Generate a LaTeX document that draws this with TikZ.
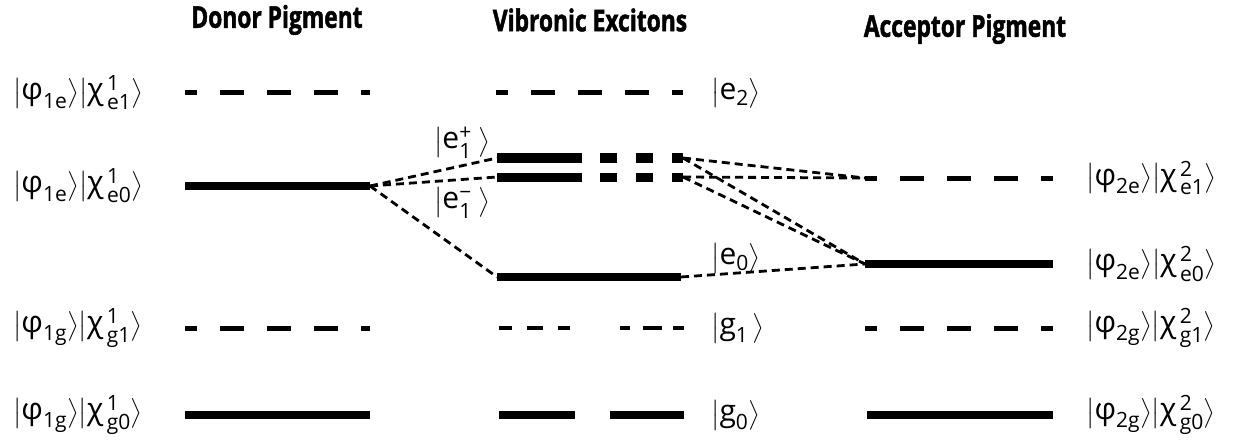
\documentclass[tikz,border=0pt]{standalone}
\usepackage{amsmath}
\usepackage{fontspec}
\setmainfont{Open Sans}
\newfontfamily\titlefont[FakeStretch=0.76,FakeBold=1.5]{Open Sans}
\newcommand\tx[1]{\text{#1}}
\newcommand\myket[1]{\ensuremath{\bigl|#1\bigr\rangle}}
\newcommand\pair[3]{\myket{\tx{φ}_{\tx{#1}}}\myket{\tx{χ}^{\,\tx{#2}}_{\,\tx{#3}}}}
\begin{document}
\begin{tikzpicture}[x=1pt,y=-1pt,
  lab/.style={anchor=west,inner sep=0pt,font=\fontsize{30}{33}\selectfont},
  ttl/.style={inner sep=0pt,font=\titlefont\bfseries\fontsize{30}{34}\selectfont},
  solidlvl/.style={line width=8pt},
  dashlvl/.style={line width=5pt,dash pattern=on 24pt off 23pt,dash phase=12pt},
  splitlvl/.style={line width=9pt,dash pattern=on 85pt off 18pt on 17pt off 19pt on 17pt off 19pt on 20pt off 20pt},
  gonelvl/.style={line width=4pt,dash pattern=on 13pt off 15pt on 16pt off 15pt on 12pt off 50pt on 10pt off 13pt on 19pt off 11pt on 11pt off 20pt},
  gzerolvl/.style={line width=8pt,dash pattern=on 76pt off 35pt on 80pt off 20pt},
  conn/.style={line width=2.8pt,dash pattern=on 8pt off 5pt}]
\useasboundingbox (0,0) rectangle (1250,441);
% titles
\node[ttl] (tD) at (277,20) {Donor Pigment};
\node[ttl] (tV) at (590,20) {Vibronic Excitons};
\node[ttl] (tA) at (965,29) {Acceptor Pigment};
% donor levels
\coordinate (De1a) at (185,93);  \coordinate (De1b) at (370,93);
\coordinate (De0a) at (185,186); \coordinate (De0b) at (370,186);
\coordinate (Dg1a) at (185,328); \coordinate (Dg1b) at (370,328);
\coordinate (Dg0a) at (185,415); \coordinate (Dg0b) at (370,415);
\draw[dashlvl] (De1a) -- (De1b);
\draw[solidlvl] (De0a) -- (De0b);
\draw[dashlvl] (Dg1a) -- (Dg1b);
\draw[solidlvl] (Dg0a) -- (Dg0b);
% exciton levels
\coordinate (Ve2a) at (496,93);  \coordinate (Ve2b) at (683,93);
\coordinate (Vpa) at (497,158);  \coordinate (Vpb) at (683,158);
\coordinate (Vma) at (497,177);  \coordinate (Vmb) at (683,177);
\coordinate (Ve0a) at (497,277); \coordinate (Ve0b) at (681,277);
\coordinate (Vg1a) at (499,328); \coordinate (Vg1b) at (684,328);
\coordinate (Vg0a) at (499,415); \coordinate (Vg0b) at (684,415);
\draw[dashlvl] (Ve2a) -- (Ve2b);
\draw[splitlvl] (Vpa) -- (Vpb);
\draw[splitlvl] (Vma) -- (Vmb);
\draw[solidlvl] (Ve0a) -- (Ve0b);
\draw[gonelvl] (Vg1a) -- (Vg1b);
\draw[gzerolvl] (Vg0a) -- (Vg0b);
% acceptor levels
\coordinate (Ae1a) at (865,178); \coordinate (Ae1b) at (1053,178);
\coordinate (Ae0a) at (865,264); \coordinate (Ae0b) at (1053,264);
\coordinate (Ag1a) at (865,328); \coordinate (Ag1b) at (1053,328);
\coordinate (Ag0a) at (867,415); \coordinate (Ag0b) at (1053,415);
\draw[dashlvl] (Ae1a) -- (Ae1b);
\draw[solidlvl] (Ae0a) -- (Ae0b);
\draw[dashlvl] (Ag1a) -- (Ag1b);
\draw[solidlvl] (Ag0a) -- (Ag0b);
% connectors
\draw[conn] (De0b) -- (Vpa);
\draw[conn] (De0b) -- (Vma);
\draw[conn] (De0b) -- (Ve0a);
\draw[conn] (Vpb) -- (Ae1a);
\draw[conn] (Vmb) -- (Ae1a);
\draw[conn] (Vpb) -- (Ae0a);
\draw[conn] (Vmb) -- (Ae0a);
\draw[conn] (Ve0b) -- (Ae0a);
% left labels
\node[lab] (LDe1) at (13,93)  {\pair{1e}{1}{e1}};
\node[lab] (LDe0) at (13,186) {\pair{1e}{1}{e0}};
\node[lab] (LDg1) at (13,328) {\pair{1g}{1}{g1}};
\node[lab] (LDg0) at (13,415) {\pair{1g}{1}{g0}};
% exciton labels
\node[lab] (LVe2) at (711,93)  {\myket{\tx{e}_{\tx{2}}}};
\node[lab] (LVp)  at (434,143) {\myket{\tx{e}^{\tx{+}}_{\tx{1}}\;}};
\node[lab] (LVm)  at (434,203) {\myket{\tx{e}^{\tx{−}}_{\tx{1}}\;}};
\node[lab] (LVe0) at (711,258) {\myket{\tx{e}_{\tx{0}}}};
\node[lab] (LVg1) at (711,328) {\myket{\tx{g}_{\tx{1}}\,}};
\node[lab] (LVg0) at (711,415) {\myket{\tx{g}_{\tx{0}}}};
% acceptor labels
\node[lab] (LAe1) at (1086,178) {\pair{2e}{2}{e1}};
\node[lab] (LAe0) at (1086,264) {\pair{2e}{2}{e0}};
\node[lab] (LAg1) at (1086,328) {\pair{2g}{2}{g1}};
\node[lab] (LAg0) at (1086,415) {\pair{2g}{2}{g0}};
\end{tikzpicture}
\end{document}
